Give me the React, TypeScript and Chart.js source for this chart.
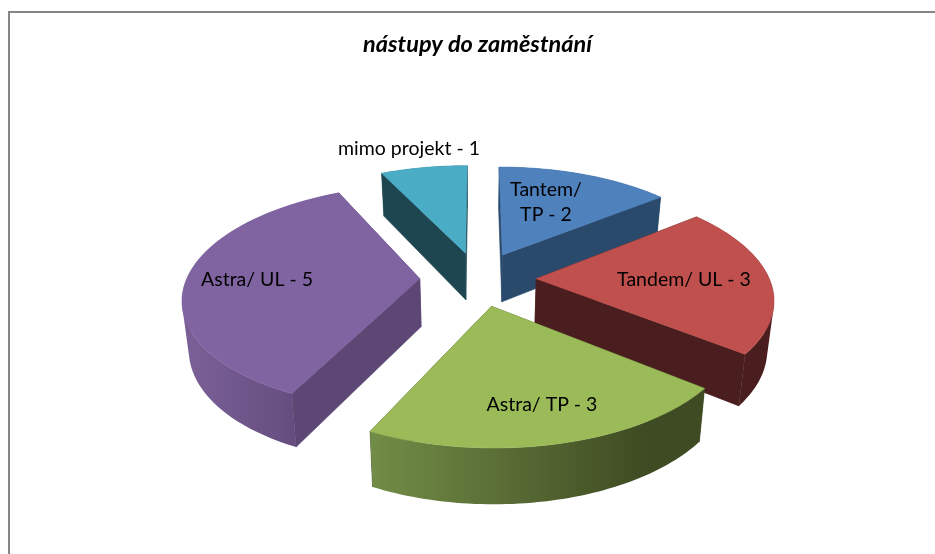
import React, { useEffect, useRef } from "react";
import { Chart, registerables } from "chart.js";

Chart.register(...registerables);

const categories = ["Tantem/ TP", "Tandem/ UL", "Astra/ TP", "Astra/ UL", "mimo projekt"];
const values = [2, 3, 3, 5, 1];
const topColors = ["#4f81bd", "#c0504d", "#9bbb59", "#8064a2", "#4bacc6"];
const radialWallColors = ["#2a4a6c", "#4a1e1e", "#3f4b22", "#5c4775", "#1e4650"];
const outerWallStops = [
  ["#2a4a6c", "#2a4a6c"],
  ["#4a1e1e", "#4a1e1e"],
  ["#728d47", "#3f4b22"],
  ["#7b6098", "#5c4775"],
  ["#1e4650", "#1e4650"],
];
const labelLines = [["Tantem/", "TP - 2"], ["Tandem/ UL - 3"], ["Astra/ TP - 3"], ["Astra/ UL - 5"], ["mimo projekt - 1"]];
const labelCenters = [[546, 202], [684, 280], [542, 405], [257, 280], [409, 149]];
const drawOrder = [4, 0, 3, 1, 2];

const CX = 478, CY = 278.7, RX = 233, RY = 109, P = 0.16, EXPLODE = 0.25, DEPTH = 48, SHRINK = 0.977;
const FONT = "Lato, 'Open Sans', sans-serif";

type Pt = [number, number];
function top(u: number, v: number): Pt {
  const s = 1 / (1 - P * v);
  return [CX + RX * u * s, CY + RY * v * s];
}
function bottom(u: number, v: number): Pt {
  const s = 1 / (1 - P * v);
  const [x, y] = top(u, v);
  return [CX + (x - CX) * SHRINK, y + DEPTH * (1 + 0.7 * (s - 1))];
}
function poly(ctx: CanvasRenderingContext2D, pts: Pt[], fill: string | CanvasGradient, seam = 0.6) {
  ctx.beginPath();
  pts.forEach((p, i) => (i ? ctx.lineTo(p[0], p[1]) : ctx.moveTo(p[0], p[1])));
  ctx.closePath();
  ctx.fillStyle = fill;
  ctx.strokeStyle = fill;
  ctx.lineWidth = seam;
  ctx.lineJoin = "round";
  ctx.fill();
  ctx.stroke();
}
function signedArea(pts: Pt[]) {
  let s = 0;
  pts.forEach((p, i) => {
    const q = pts[(i + 1) % pts.length];
    s += p[0] * q[1] - q[0] * p[1];
  });
  return s;
}
function wall(ctx: CanvasRenderingContext2D, rim: [number, number][], fill: string | CanvasGradient) {
  ctx.beginPath();
  for (let k = 0; k < rim.length - 1; k++) {
    const p = rim[k], q = rim[k + 1];
    let quad: Pt[] = [top(p[0], p[1]), top(q[0], q[1]), bottom(q[0], q[1]), bottom(p[0], p[1])];
    if (signedArea(quad) < 0) quad = quad.reverse();
    quad.forEach((pt, i) => (i ? ctx.lineTo(pt[0], pt[1]) : ctx.moveTo(pt[0], pt[1])));
    ctx.closePath();
  }
  ctx.fillStyle = fill;
  ctx.fill("nonzero");
}

const pie3d = {
  id: "pie3d",
  beforeDatasetsDraw(chart: any) {
    const ctx: CanvasRenderingContext2D = chart.ctx;
    const arcs = chart.getDatasetMeta(0).data;
    ctx.save();
    ctx.strokeStyle = "#868686";
    ctx.lineWidth = 2;
    ctx.strokeRect(9, 12, 1000, 1000);
    for (const i of drawOrder) {
      const a = arcs[i];
      const mid = (a.startAngle + a.endAngle) / 2;
      const ox = Math.cos(mid) * EXPLODE, oy = Math.sin(mid) * EXPLODE;
      const N = 60;
      const rim: [number, number][] = [];
      for (let k = 0; k <= N; k++) {
        const t = a.startAngle + ((a.endAngle - a.startAngle) * k) / N;
        rim.push([ox + Math.cos(t), oy + Math.sin(t)]);
      }
      const first = rim[0], last = rim[N];
      const xs = rim.map((r) => top(r[0], r[1])[0]);
      const g = ctx.createLinearGradient(Math.min(...xs), 0, Math.max(...xs) - (i === 2 ? 60 : 0), 0);
      g.addColorStop(0, outerWallStops[i][0]);
      g.addColorStop(1, outerWallStops[i][1]);
      const startWall = () =>
        poly(ctx, [top(ox, oy), top(first[0], first[1]), bottom(first[0], first[1]), bottom(ox, oy)], radialWallColors[i]);
      const endWall = () =>
        poly(ctx, [top(ox, oy), top(last[0], last[1]), bottom(last[0], last[1]), bottom(ox, oy)], radialWallColors[i]);
      const startVisible = -Math.cos(a.startAngle) > 0;
      const endVisible = Math.cos(a.endAngle) > 0;
      if (!startVisible) startWall();
      if (!endVisible) endWall();
      wall(ctx, rim, g);
      if (startVisible) startWall();
      if (endVisible) endWall();
      poly(ctx, [top(ox, oy), ...rim.map((r) => top(r[0], r[1]))], topColors[i]);
    }
    ctx.fillStyle = "#000";
    ctx.font = `19.5px ${FONT}`;
    ctx.textAlign = "center";
    ctx.textBaseline = "middle";
    labelLines.forEach((lines, i) => {
      lines.forEach((line, j) => {
        const y = labelCenters[i][1] + (j - (lines.length - 1) / 2) * 25;
        ctx.fillText(line, labelCenters[i][0], y);
      });
    });
    ctx.restore();
    return false;
  },
};

export default function App() {
  const ref = useRef<HTMLCanvasElement>(null);
  useEffect(() => {
    const chart = new Chart(ref.current as HTMLCanvasElement, {
      type: "pie",
      data: { labels: categories, datasets: [{ data: values, backgroundColor: topColors, borderWidth: 0 }] },
      options: {
        animation: false,
        responsive: false,
        devicePixelRatio: 1,
        rotation: 0,
        layout: { padding: { left: 20 } },
        plugins: {
          legend: { display: false },
          tooltip: { enabled: false },
          title: {
            display: true,
            text: "nástupy do zaměstnání",
            color: "#000",
            font: { family: FONT, size: 23.5, weight: "bold", style: "italic" },
            padding: { top: 30, bottom: 0 },
          },
        },
      },
      plugins: [pie3d],
    } as any);
    return () => chart.destroy();
  }, []);
  return (
    <div style={{ position: "fixed", left: 0, top: 0, width: 935, height: 554, background: "#fff", overflow: "hidden" }}>
      <canvas ref={ref} width={935} height={554} style={{ display: "block" }} />
    </div>
  );
}
